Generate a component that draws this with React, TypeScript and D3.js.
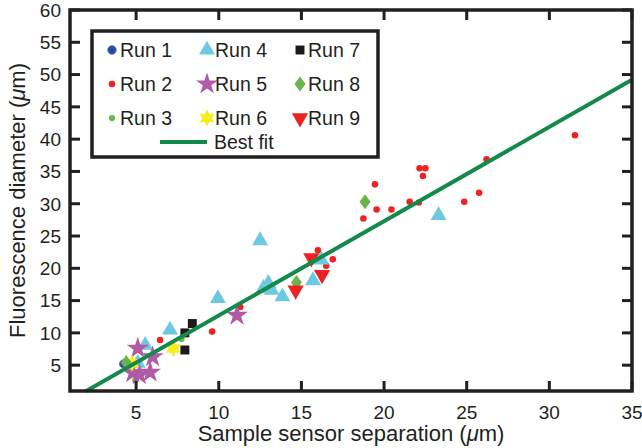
import React from "react";
import * as d3 from "d3";

const W = 642;
const H = 448;

const xTicks = [5, 10, 15, 20, 25, 30, 35];
const yTicks = [5, 10, 15, 20, 25, 30, 35, 40, 45, 50, 55, 60];
const xDomain = [1, 35];
const yDomain = [1, 60];

const run1 = [[4.25, 5.2]];
const run2 = [
  [6.45, 8.9], [9.6, 10.2], [11.3, 14.0], [16.0, 22.8], [16.9, 21.4], [16.5, 20.4],
  [18.75, 27.7], [19.45, 33.0], [19.55, 29.1], [20.45, 29.1], [21.55, 30.3], [22.1, 30.2],
  [22.15, 35.5], [22.5, 35.5], [22.35, 34.3], [24.85, 30.3], [25.75, 31.7], [26.2, 36.9], [31.55, 40.6],
];
const run3 = [[4.95, 2.7], [7.75, 9.05]];
const run4 = [
  [5.1, 5.3], [5.55, 8.1], [7.05, 10.45], [9.95, 15.35], [12.5, 24.3], [12.7, 16.9],
  [13.0, 17.7], [13.2, 16.6], [13.85, 15.6], [15.7, 18.1], [16.2, 21.3], [23.3, 28.2],
];
const run5 = [[5.1, 7.6], [6.0, 6.3], [5.85, 3.9], [4.8, 3.8], [5.2, 3.5], [11.1, 12.7]];
const run6 = [[4.75, 5.3], [7.25, 7.6]];
const run7 = [[8.4, 11.45], [7.95, 10.0], [7.95, 7.35]];
const run8 = [[4.4, 5.4], [14.7, 17.8], [18.85, 30.3]];
const run9 = [[15.6, 21.6], [16.25, 19.0], [14.65, 16.6]];

const bestFit = { slope: 1.46, intercept: -1.9 };

const hexagram = (r: number) => {
  const pts: string[] = [];
  for (let i = 0; i < 12; i++) {
    const a = (Math.PI / 6) * i - Math.PI / 2;
    const rr = i % 2 === 0 ? r : r * 0.55;
    pts.push(`${(rr * Math.cos(a)).toFixed(2)},${(rr * Math.sin(a)).toFixed(2)}`);
  }
  return "M" + pts.join("L") + "Z";
};

const diamond = (w: number, h: number) => `M0,${-h / 2}L${w / 2},0L0,${h / 2}L${-w / 2},0Z`;

const sym = (t: any, s: number) => d3.symbol().type(t).size(s)() as string;

type Series = { name: string; data: number[][]; path: string; fill: string; rot?: number; stroke?: string };

const series: Series[] = [
  { name: "Run 1", data: run1, path: sym(d3.symbolCircle, 55), fill: "#2a4aa0", stroke: "#4a6ac0" },
  { name: "Run 2", data: run2, path: sym(d3.symbolCircle, 34), fill: "#ee2222" },
  { name: "Run 3", data: run3, path: sym(d3.symbolCircle, 30), fill: "#66bb44" },
  { name: "Run 4", data: run4, path: sym(d3.symbolTriangle, 110), fill: "#6cc9df" },
  { name: "Run 5", data: run5, path: sym(d3.symbolStar, 150), fill: "#b05aa8" },
  { name: "Run 6", data: run6, path: hexagram(8.5), fill: "#f7ec1e" },
  { name: "Run 7", data: run7, path: sym(d3.symbolSquare, 80), fill: "#1a1a1a" },
  { name: "Run 8", data: run8, path: diamond(11, 15), fill: "#6ab44c" },
  { name: "Run 9", data: run9, path: sym(d3.symbolTriangle, 115), fill: "#ee2222", rot: 180 },
];

const FONT = "'Liberation Sans', Arial, Helvetica, sans-serif";

export default function App() {
  const left = 70, right = 632, top = 10, bottom = 391;
  const x = d3.scaleLinear().domain(xDomain).range([left, right]);
  const y = d3.scaleLinear().domain(yDomain).range([bottom, top]);
  const tl = 10;

  const fitX0 = (yDomain[0] - bestFit.intercept) / bestFit.slope;
  const fitX1 = xDomain[1];
  const fitLine = d3.line<number>()
    .x((v) => x(v))
    .y((v) => y(bestFit.slope * v + bestFit.intercept))([fitX0, fitX1]) as string;

  const legX = [112, 207, 300];
  const legY = [50, 84, 118];
  const legOrder = [0, 1, 2, 3, 4, 5, 6, 7, 8];

  return (
    <svg width={W} height={H} style={{ position: "absolute", left: 0, top: 0, background: "#fff" }} fontFamily={FONT}>
      <rect x={0} y={0} width={W} height={H} fill="#fff" />
      {series.map((s, si) => (
        <g key={si}>
          {s.data.map((d, i) => (
            <path
              key={i}
              d={s.path}
              transform={`translate(${x(d[0])},${y(d[1])})${s.rot ? ` rotate(${s.rot})` : ""}`}
              fill={s.fill}
              stroke={s.stroke || "none"}
              strokeWidth={1}
            />
          ))}
        </g>
      ))}
      <path d={fitLine} stroke="#13894a" strokeWidth={4} fill="none" />
      <rect x={left} y={top} width={right - left} height={bottom - top} fill="none" stroke="#231f20" strokeWidth={3.5} />
      {xTicks.map((t) => (
        <g key={"x" + t}>
          <line x1={x(t)} x2={x(t)} y1={bottom} y2={bottom - tl} stroke="#231f20" strokeWidth={3} />
          <line x1={x(t)} x2={x(t)} y1={top} y2={top + tl} stroke="#231f20" strokeWidth={3} />
          <text x={x(t)} y={bottom + 28} textAnchor="middle" fontSize={19} fill="#231f20">{t}</text>
        </g>
      ))}
      {yTicks.map((t) => (
        <g key={"y" + t}>
          <line x1={left} x2={left + tl} y1={y(t)} y2={y(t)} stroke="#231f20" strokeWidth={3} />
          <line x1={right} x2={right - tl} y1={y(t)} y2={y(t)} stroke="#231f20" strokeWidth={3} />
          <text x={left - 9} y={y(t)} dy="0.36em" textAnchor="end" fontSize={19} fill="#231f20">{t}</text>
        </g>
      ))}
      <text x={(left + right) / 2} y={441} textAnchor="middle" fontSize={22} fill="#231f20">
        Sample sensor separation (<tspan fontStyle="italic">μ</tspan>m)
      </text>
      <text transform={`translate(25,${(top + bottom) / 2}) rotate(-90)`} textAnchor="middle" fontSize={22} fill="#231f20">
        Fluorescence diameter (<tspan fontStyle="italic">μ</tspan>m)
      </text>
      <rect x={92} y={31} width={286} height={126} fill="#fff" stroke="#231f20" strokeWidth={3.5} />
      {legOrder.map((si, k) => {
        const s = series[si];
        const col = Math.floor(k / 3);
        const row = k % 3;
        const cx = legX[col];
        const cy = legY[row];
        return (
          <g key={"leg" + si}>
            <path d={s.path} transform={`translate(${cx},${cy})${s.rot ? ` rotate(${s.rot})` : ""}`} fill={s.fill} stroke={s.stroke || "none"} strokeWidth={1} />
            <text x={cx + 8} y={cy} dy="0.36em" fontSize={19.5} fill="#231f20">{s.name}</text>
          </g>
        );
      })}
      <line x1={160} x2={207} y1={142} y2={142} stroke="#13894a" strokeWidth={4} />
      <text x={214} y={142} dy="0.36em" fontSize={19.5} fill="#231f20">Best fit</text>
    </svg>
  );
}
